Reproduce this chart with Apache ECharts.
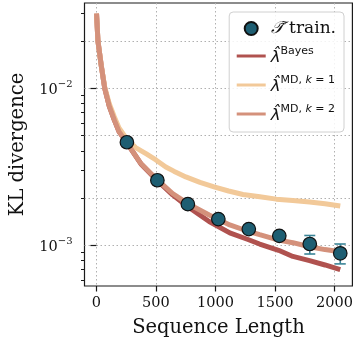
<!DOCTYPE html>
<html>
<head>
<meta charset="utf-8">
<script src="https://cdn.jsdelivr.net/npm/echarts@6/dist/echarts.min.js"></script>
<style>
  html, body { margin: 0; padding: 0; background: #fff; }
  #chart { width: 356px; height: 343px; }
</style>
</head>
<body>
<div id="chart"></div>
<script>
// sequence length positions
const bayesX = [1, 13, 41, 70, 108, 150, 190, 256, 374, 508, 640, 765, 947, 1120, 1273, 1371, 1530, 1650, 1790, 1920, 2048];
const bayesY = [0.030, 0.020, 0.0139, 0.0100, 0.0077, 0.0063, 0.0053, 0.0045, 0.00330, 0.00260, 0.00210, 0.00177, 0.00142, 0.00120, 0.00109, 0.00102, 0.00093, 0.00085, 0.00080, 0.00075, 0.00070];

const md1X = [1, 13, 41, 70, 108, 150, 190, 256, 330, 416, 500, 583, 650, 751, 870, 988, 1110, 1231, 1373, 1511, 1650, 1790, 1920, 2048];
const md1Y = [0.030, 0.020, 0.0139, 0.0102, 0.0080, 0.0066, 0.0056, 0.00475, 0.0042, 0.00384, 0.0035, 0.00316, 0.00297, 0.00273, 0.00252, 0.00236, 0.00222, 0.00211, 0.00204, 0.00197, 0.00193, 0.00189, 0.00184, 0.00178];

const md2X = [1, 13, 41, 70, 108, 150, 190, 256, 374, 508, 640, 765, 947, 1120, 1273, 1371, 1530, 1650, 1790, 1920, 2048];
const md2Y = [0.030, 0.020, 0.0139, 0.0100, 0.0077, 0.0063, 0.0053, 0.0045, 0.00332, 0.00263, 0.00214, 0.00185, 0.00156, 0.00135, 0.00123, 0.00117, 0.00108, 0.00104, 0.00098, 0.00094, 0.00091];

// trained transformer points with error bars
const trainX = [256, 512, 768, 1024, 1280, 1536, 1792, 2048];
const trainY = [0.00454, 0.00260, 0.00183, 0.00147, 0.00127, 0.00115, 0.00102, 0.00089];
const trainLo = [0.00440, 0.00252, 0.00176, 0.00141, 0.00121, 0.00108, 0.000881, 0.000762];
const trainHi = [0.00470, 0.00268, 0.00190, 0.00153, 0.00133, 0.00122, 0.001156, 0.00102];

const xTicks = [0, 500, 1000, 1500, 2000];
const yMajor = [0.001, 0.01];
const yMinor = [0.0006, 0.0007, 0.0008, 0.0009, 0.002, 0.003, 0.004, 0.005, 0.006, 0.007, 0.008, 0.009, 0.02, 0.03];
const yGrid = [0.001, 0.002, 0.005, 0.01, 0.02];

const pair = (xs, ys) => xs.map((x, i) => [x, ys[i]]);

const chart = echarts.init(document.getElementById('chart'));
const yMin = 0.000551, yMax = 0.035;
const gridStyle = { color: '#b0b0b0', width: 1, type: [1.5, 2.5] };

const option = {
  animation: false,
  backgroundColor: '#fff',
  grid: {
    left: 84.5, right: 3, top: 3, bottom: 55,
    show: true, borderColor: '#1a1a1a', borderWidth: 1.2, backgroundColor: 'transparent'
  },
  legend: {
    orient: 'vertical',
    right: 12, top: 12,
    itemWidth: 29, itemHeight: 13, itemGap: 9,
    padding: [8, 8, 8, 6],
    backgroundColor: 'rgba(255,255,255,0.85)',
    borderColor: '#d0d0d0', borderWidth: 1, borderRadius: 4,
    data: [
      { name: 'train' },
      { name: 'bayes', itemStyle: { opacity: 0 } },
      { name: 'md1', itemStyle: { opacity: 0 } },
      { name: 'md2', itemStyle: { opacity: 0 } }
    ],
    lineStyle: { width: 3 },
    formatter: function (name) {
      if (name === 'train') return '{cal|𝒯̃}{tr| train.}';
      if (name === 'bayes') return '{lam|λ̂}{sup|Bayes}';
      if (name === 'md1') return '{lam|λ̂}{sup|MD, }{supi|k}{sup| = 1}';
      return '{lam|λ̂}{sup|MD, }{supi|k}{sup| = 2}';
    },
    textStyle: {
      color: '#111',
      rich: {
        cal: { fontFamily: 'DejaVu Serif', fontStyle: 'italic', fontSize: 17, lineHeight: 20 },
        tr: { fontFamily: 'DejaVu Serif', fontSize: 17, lineHeight: 20 },
        lam: { fontFamily: 'DejaVu Sans', fontStyle: 'italic', fontSize: 16.5, lineHeight: 20, verticalAlign: 'bottom' },
        sup: { fontFamily: 'DejaVu Sans', fontSize: 11, lineHeight: 14, verticalAlign: 'top' },
        supi: { fontFamily: 'DejaVu Sans', fontStyle: 'italic', fontSize: 11, lineHeight: 14, verticalAlign: 'top' }
      }
    }
  },
  xAxis: {
    type: 'value',
    min: -100, max: 2150,
    name: 'Sequence Length',
    nameLocation: 'middle',
    nameGap: 32,
    nameTextStyle: { fontFamily: 'DejaVu Serif', fontSize: 19.5, color: '#111' },
    axisLine: { show: false },
    axisTick: { customValues: xTicks, length: 5.5, lineStyle: { color: '#1a1a1a', width: 1.2 } },
    axisLabel: {
      customValues: xTicks, margin: 10, fontFamily: 'DejaVu Serif', fontSize: 14.5, color: '#111',
      formatter: function (v) { return String(v); }
    },
    splitLine: { show: true, lineStyle: gridStyle }
  },
  yAxis: [
    {
      type: 'log', min: yMin, max: yMax, position: 'left',
      name: 'KL divergence',
      nameLocation: 'middle',
      nameGap: 52,
      nameTextStyle: { fontFamily: 'DejaVu Serif', fontSize: 19.5, color: '#111' },
      axisLine: { show: false },
      axisTick: { customValues: yMajor, length: 6, lineStyle: { color: '#1a1a1a', width: 1.2 } },
      axisLabel: {
        customValues: yMajor, margin: 12,
        formatter: function (v) {
          const e = Math.round(Math.log10(v));
          return '{b|10}{s|' + (e < 0 ? '\u2212' + (-e) : e) + '}';
        },
        rich: {
          b: { fontFamily: 'DejaVu Serif', fontSize: 14.5, color: '#111', lineHeight: 18, verticalAlign: 'bottom' },
          s: { fontFamily: 'DejaVu Serif', fontSize: 10, color: '#111', lineHeight: 11, verticalAlign: 'top' }
        }
      },
      splitLine: { show: false }
    },
    {
      type: 'log', min: yMin, max: yMax, position: 'left', offset: 0,
      axisLine: { show: false },
      axisTick: { customValues: yMinor, length: 3.5, lineStyle: { color: '#1a1a1a', width: 1 } },
      axisLabel: { show: false },
      splitLine: { show: false }
    },
    {
      type: 'log', min: yMin, max: yMax, position: 'left', offset: 0,
      axisLine: { show: false },
      axisTick: { show: false, customValues: yGrid },
      axisLabel: { show: false },
      splitLine: { show: true, lineStyle: gridStyle }
    }
  ],
  series: [
    {
      name: 'bayes', type: 'line', data: pair(bayesX, bayesY),
      showSymbol: false, symbol: 'none', z: 2,
      color: '#b0524f', lineStyle: { width: 5, color: '#b0524f' }
    },
    {
      name: 'md1', type: 'line', data: pair(md1X, md1Y),
      showSymbol: false, symbol: 'none', z: 2,
      color: '#f2c999', lineStyle: { width: 5, color: '#f2c999' }
    },
    {
      name: 'md2', type: 'line', data: pair(md2X, md2Y),
      showSymbol: false, symbol: 'none', z: 2,
      color: '#d4917b', lineStyle: { width: 5, color: '#d4917b' }
    },
    {
      name: 'err', type: 'custom', z: 4,
      data: trainX.map((x, i) => [x, trainLo[i], trainHi[i]]),
      encode: { x: 0, y: [1, 2] },
      renderItem: function (params, api) {
        const lo = api.coord([api.value(0), api.value(1)]);
        const hi = api.coord([api.value(0), api.value(2)]);
        const w = 5.5;
        const st = { stroke: '#3a8497', lineWidth: 1.6 };
        return {
          type: 'group',
          children: [
            { type: 'line', shape: { x1: lo[0], y1: lo[1], x2: hi[0], y2: hi[1] }, style: st },
            { type: 'line', shape: { x1: lo[0] - w, y1: lo[1], x2: lo[0] + w, y2: lo[1] }, style: st },
            { type: 'line', shape: { x1: hi[0] - w, y1: hi[1], x2: hi[0] + w, y2: hi[1] }, style: st }
          ]
        };
      }
    },
    {
      name: 'train', type: 'scatter', data: pair(trainX, trainY), z: 5,
      symbol: 'circle', symbolSize: 13.5,
      itemStyle: { color: '#1e5e72', borderColor: '#111', borderWidth: 1.2, opacity: 1 }
    }
  ]
};
chart.setOption(option);
</script>
</body>
</html>
